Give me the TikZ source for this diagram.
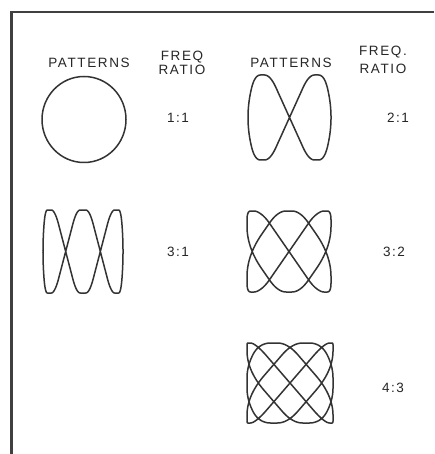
\documentclass[tikz,border=0pt]{standalone}
\usepackage{fontspec}
\setmainfont{Liberation Sans}
\newfontfamily\lettering[LetterSpace=12]{Liberation Sans}

\tikzset{
  lissa/.style={draw=black!80, line width=1.5pt, line join=round},
  frameline/.style={draw=black!75, line width=2.2pt},
  lbl/.style={font=\lettering\fontsize{13.5}{15}\selectfont, text=black!85, inner sep=0pt},
  % rounded trapezoid wave: linear middle, soft clipped peaks
  declare function={knee(\val,\kn)=(\val<\kn) ? \val :
                      ((\val<2-\kn) ? (\val-(\val-\kn)^2/(4-4*\kn)) : 1);
                    wave(\ang,\gain,\kn)=sign(sin(\ang))*knee(\gain*abs(asin(sin(\ang)))/90,\kn);},
}

\begin{document}
\begin{tikzpicture}[x=1pt,y=-1pt]
\useasboundingbox (0,0) rectangle (434,454);
\fill[white] (0,0) rectangle (434,454);
\draw[frameline] (11.5,454) -- (11.5,12) -- (434,12);
% headings
\node[lbl] (patL) at (89,63) {PATTERNS};
\node[lbl] (freqL) at (182,57) {FREQ};
\node[lbl] (ratioL) at (182,70) {RATIO};
\node[lbl] (patR) at (291,63) {PATTERNS};
\node[lbl] (freqR) at (383,52.5) {FREQ.};
\node[lbl] (ratioR) at (383,69) {RATIO};
% ratios
\node[lbl] (r11) at (178,118) {1:1};
\node[lbl] (r21) at (398,118) {2:1};
\node[lbl] (r31) at (178,252) {3:1};
\node[lbl] (r32) at (394,252) {3:2};
\node[lbl] (r43) at (393,388) {4:3};
% 1:1
\draw[lissa] (84,119.5) ellipse[x radius=42, y radius=43];
% others: centre x/y, half width/height, x freq, y freq, phase, x gain/knee, y gain/knee
\foreach \cx/\cy/\rx/\ry/\fx/\fy/\ph/\gx/\kx/\gy/\ky in {
    289.5/117.5/41.5/42.5/1/2/0/1.3/0.7/1.4/0.7,
    83/251.5/40/41.5/1/3/90/1.3/0.7/1.6/0.65,
    289/251.5/42/40.5/2/3/0/1.4/0.65/1.4/0.7,
    290/383/43/40/3/4/0/1.5/0.6/1.4/0.7}
  \draw[lissa] plot[domain=0:360, samples=721]
    ({\cx+\rx*wave(\fx*\x+\ph,\gx,\kx)}, {\cy+\ry*wave(\fy*\x,\gy,\ky)});
\end{tikzpicture}
\end{document}
